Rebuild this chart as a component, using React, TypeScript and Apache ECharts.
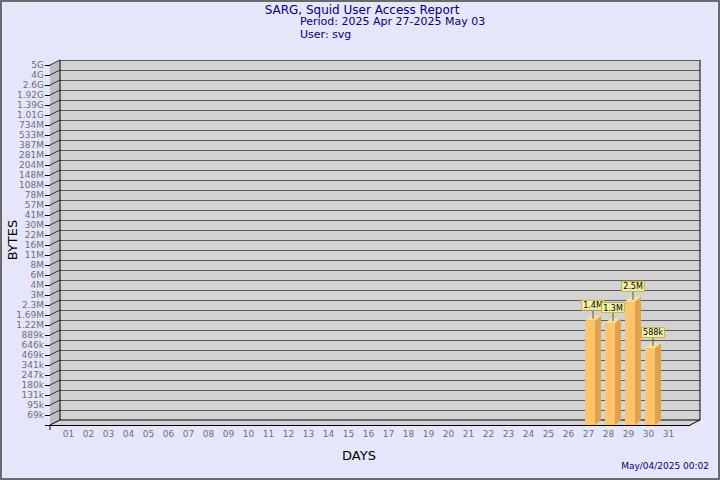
import React, { useEffect, useRef } from 'react';
import * as echarts from 'echarts';

const titleText = 'SARG, Squid User Access Report';
const periodText = 'Period: 2025 Apr 27-2025 May 03';
const userText = 'User: svg';
const dateText = 'May/04/2025 00:02';
const yAxisName = 'BYTES';
const xAxisName = 'DAYS';

const dayLabels = ['01','02','03','04','05','06','07','08','09','10','11','12','13','14','15','16','17','18','19','20','21','22','23','24','25','26','27','28','29','30','31'];
const yTickLabels = ['69k','95k','131k','180k','247k','341k','469k','646k','889k','1.22M','1.69M','2.3M','3M','4M','6M','8M','11M','16M','22M','30M','41M','57M','78M','108M','148M','204M','281M','387M','533M','734M','1.01G','1.39G','1.92G','2.6G','4G','5G'];

const barDays = [27, 28, 29, 30];
const barBytes = [1400000, 1300000, 2500000, 588000];
const barLabels = ['1.4M', '1.3M', '2.5M', '588k'];

const FONT = '"DejaVu Sans", sans-serif';

function parseSize(s: string): number {
  const unit = s.slice(-1);
  const n = parseFloat(s);
  if (unit === 'k') return n * 1e3;
  if (unit === 'M') return n * 1e6;
  if (unit === 'G') return n * 1e9;
  return n;
}
const tickValues = yTickLabels.map(parseSize);

// map bytes to axis position (tick i sits at position i+1)
function bytesToPos(v: number): number {
  const t = tickValues;
  if (v <= t[0]) return Math.max(0, v / t[0]);
  for (let i = 0; i < t.length - 1; i++) {
    if (v >= t[i] && v < t[i + 1]) {
      return i + 1 + Math.log(v / t[i]) / Math.log(t[i + 1] / t[i]);
    }
  }
  return t.length;
}

const NDAY = dayLabels.length + 1; // 32 slots
const NY = yTickLabels.length; // 36
const DX = 10, DY = -5;
const BDX = 6, BDY = -5;

export default function App() {
  const ref = useRef<HTMLDivElement>(null);
  useEffect(() => {
    if (!ref.current) return;
    const chart = echarts.init(ref.current, null, { renderer: 'svg' });
    const barData = barDays.map((d, i) => [d, bytesToPos(barBytes[i]), barLabels[i]]);

    const option: any = {
      animation: false,
      backgroundColor: '#e6e6fa',
      grid: [
        { left: 60, top: 60, width: 640, height: 360, show: true, backgroundColor: '#d3d3d3', borderWidth: 0 },
        { left: 50, top: 65, width: 640, height: 360, show: false },
      ],
      xAxis: [
        { gridIndex: 0, type: 'value', min: 0, max: NDAY, interval: 1, show: false },
        {
          gridIndex: 1, type: 'value', min: 0, max: NDAY, interval: 1,
          axisLine: { show: true, lineStyle: { color: '#000', width: 1 } },
          axisTick: { show: false },
          splitLine: { show: false },
          axisLabel: {
            margin: 4, color: '#6e6e78', fontSize: 9, fontFamily: FONT, padding: [0, 3, 0, 0],
            formatter: (v: number) => (v >= 1 && v <= dayLabels.length ? dayLabels[v - 1] : ''),
          },
        },
      ],
      yAxis: [
        {
          gridIndex: 0, type: 'value', min: 0, max: NY, interval: 1,
          axisLine: { show: false }, axisTick: { show: false }, axisLabel: { show: false },
          splitLine: { show: true, lineStyle: { color: '#5a5a5a', width: 1 } },
        },
        {
          gridIndex: 1, type: 'value', min: 0, max: NY, interval: 1,
          axisLine: { show: true, lineStyle: { color: '#000', width: 1 } },
          axisTick: { show: true, length: 5, lineStyle: { color: '#000' } },
          splitLine: { show: false },
          axisLabel: {
            margin: 6, color: '#6e6e78', fontSize: 9, fontFamily: FONT,
            formatter: (v: number) => (v >= 1 && v <= NY ? yTickLabels[v - 1] : ''),
          },
        },
      ],
      series: [
        {
          type: 'custom',
          xAxisIndex: 1, yAxisIndex: 1,
          z: 2,
          silent: true,
          data: [[0, 0]],
          renderItem: (params: any, api: any) => {
            const p = (x: number, y: number) => api.coord([x, y]);
            const d = (pt: number[]) => [pt[0] + DX, pt[1] + DY];
            const tl = p(0, NY), bl = p(0, 0), br = p(NDAY, 0), tr = p(NDAY, NY);
            const children: any[] = [];
            children.push({ type: 'polygon', shape: { points: [tl, d(tl), d(bl), bl] }, style: { fill: '#bebebe' } });
            children.push({ type: 'polygon', shape: { points: [bl, d(bl), d(br), br] }, style: { fill: '#d3d3d3' } });
            for (let j = 1; j <= NY; j++) {
              const a = p(0, j);
              children.push({ type: 'line', shape: { x1: a[0], y1: a[1], x2: a[0] + DX, y2: a[1] + DY }, style: { stroke: '#333', lineWidth: 1 } });
            }
            const line = (a: number[], b: number[], c = '#000') => ({ type: 'line', shape: { x1: a[0], y1: a[1], x2: b[0], y2: b[1] }, style: { stroke: c, lineWidth: 1 } });
            children.push(line(d(bl), d(tl)));
            children.push(line(d(br), d(tr)));
            children.push(line(d(bl), d(br)));
            children.push(line(bl, d(bl)));
            children.push(line(br, d(br)));
            children.push(line(bl, [bl[0], bl[1] + 5]));
            return { type: 'group', children };
          },
        },
        {
          type: 'custom',
          xAxisIndex: 1, yAxisIndex: 1,
          z: 3,
          data: barData,
          renderItem: (params: any, api: any) => {
            const day = api.value(0);
            const pos = api.value(1);
            const label = barData[params.dataIndex][2] as string;
            const b = api.coord([day - 0.25, 0]);
            const t = api.coord([day + 0.25, pos]);
            const x0 = b[0], x1 = t[0], y0 = b[1], y1 = t[1];
            const cx = (x0 + x1 + BDX) / 2;
            return {
              type: 'group',
              children: [
                { type: 'rect', shape: { x: x0, y: y1, width: x1 - x0, height: y0 - y1 }, style: { fill: '#ffc56c' } },
                { type: 'polygon', shape: { points: [[x1, y1], [x1 + BDX, y1 + BDY], [x1 + BDX, y0 + BDY], [x1, y0]] }, style: { fill: '#dfa24e' } },
                { type: 'polygon', shape: { points: [[x0, y1], [x1, y1], [x1 + BDX, y1 + BDY], [x0 + BDX, y1 + BDY]] }, style: { fill: '#ffde8e' } },
                { type: 'line', shape: { x1: cx, y1: y1 - 11, x2: cx, y2: y1 - 2 }, style: { stroke: '#555', lineWidth: 1 } },
                {
                  type: 'text', x: cx, y: y1 - 11,
                  style: {
                    text: label, font: '8px ' + FONT, fill: '#000', align: 'center', verticalAlign: 'bottom',
                    backgroundColor: '#f4f0a6', borderColor: '#c8b440', borderWidth: 1, padding: [1, 1, 0, 1],
                  },
                },
              ],
            };
          },
        },
      ],
      graphic: [
        { type: 'rect', shape: { x: 1, y: 1, width: 718, height: 478 }, style: { fill: 'none', stroke: '#6a6a6a', lineWidth: 2 }, silent: true },
        { type: 'text', x: 362, y: 3.5, style: { text: titleText, font: '12px ' + FONT, lineHeight: 12, fill: '#000080', align: 'center', verticalAlign: 'top' } },
        { type: 'text', x: 300, y: 16, style: { text: periodText, font: '11px ' + FONT, lineHeight: 11, fill: '#000080', align: 'left', verticalAlign: 'top' } },
        { type: 'text', x: 300, y: 28.5, style: { text: userText, font: '11px ' + FONT, lineHeight: 11, fill: '#000080', align: 'left', verticalAlign: 'top' } },
        { type: 'text', x: 12, y: 240, rotation: Math.PI / 2, style: { text: yAxisName, font: '13px ' + FONT, fill: '#000', align: 'center', verticalAlign: 'middle' } },
        { type: 'text', x: 359, y: 455, style: { text: xAxisName, font: '13px ' + FONT, fill: '#000', align: 'center', verticalAlign: 'middle' } },
        { type: 'text', x: 709, y: 466, style: { text: dateText, font: '9px ' + FONT, fill: '#000080', align: 'right', verticalAlign: 'middle' } },
      ],
    };
    chart.setOption(option);
    return () => chart.dispose();
  }, []);
  return <div ref={ref} style={{ position: 'fixed', left: 0, top: 0, width: 720, height: 480 }} />;
}
